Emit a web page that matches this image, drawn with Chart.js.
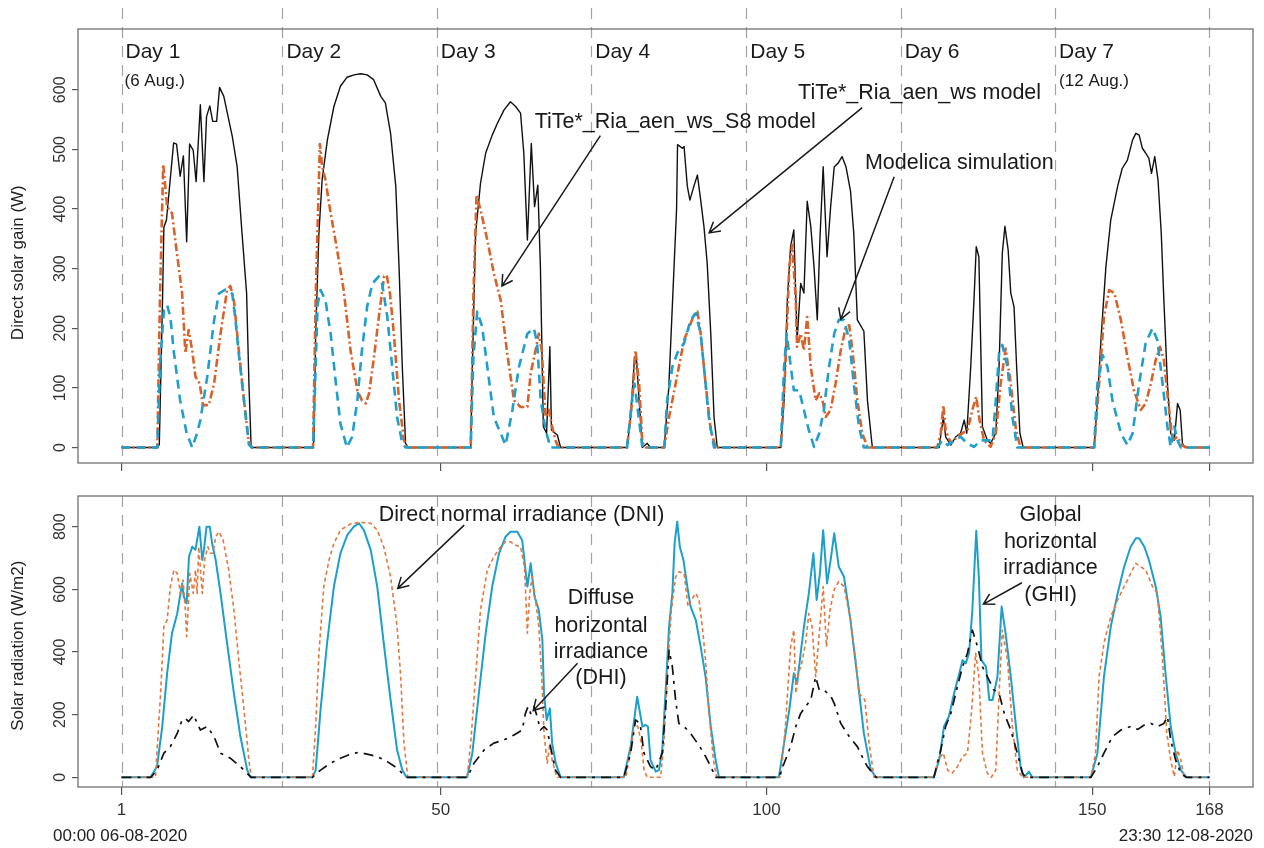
<!DOCTYPE html>
<html>
<head>
<meta charset="utf-8">
<script src="https://cdn.jsdelivr.net/npm/chart.js@4.4.1/dist/chart.umd.min.js"></script>
<style>
  html, body { margin: 0; padding: 0; background: #fff; }
  #wrap { position: relative; width: 1264px; height: 848px; }
  canvas { position: absolute; left: 0; }
</style>
</head>
<body>
<div id="wrap">
  <canvas id="gainChart" width="1264" height="475" style="top:0"></canvas>
  <canvas id="radChart" width="1264" height="373" style="top:475px"></canvas>
</div>
<script>
// Axis ticks and day markers (hour index, 1 = 00:00 06-08-2020)
const hourTicks = [1, 50, 100, 150, 168];
const gainTicks = [0, 100, 200, 300, 400, 500, 600];
const radTicks = [0, 200, 400, 600, 800];
const dayBounds = [1, 25.7, 49.4, 73.1, 96.9, 120.6, 144.3, 168];
const dayNames = ['Day 1', 'Day 2', 'Day 3', 'Day 4', 'Day 5', 'Day 6', 'Day 7'];

// Direct solar gain (W) - [hour, value]
const gainRiaWs = [
  [1,0],[6.5,0],[6.8,5],[7.3,250],[7.5,369],[7.9,382],[9,511],[9.45,509],[10,455],[10.5,489],[11,345],[11.45,509],[12,499],[12.45,446],[13.1,575],[13.65,446],[14.05,555],[14.55,573],[15,547],[15.6,547],[16.05,604],[16.7,589],[18,522],[18.75,471],[19.5,359],[20.2,259],[20.55,110],[20.9,0],
  [30.3,0],[30.55,12],[30.8,190],[31.3,360],[31.8,450],[32.6,516],[33.6,572],[34.6,606],[35.6,621],[36.7,625],[37.7,627],[38.7,625],[39.7,617],[40.8,589],[41.5,578],[42.3,527],[43.1,438],[43.6,303],[44.1,135],[44.6,7],[45,0],
  [54.6,0],[54.85,135],[55.35,359],[56.1,443],[56.9,494],[57.9,524],[58.7,544],[59.7,566],[60.7,580],[61.5,572],[62.25,561],[62.75,494],[63.3,348],[63.9,510],[64.4,404],[64.9,440],[65.3,303],[65.75,35],[66.25,24],[66.75,169],[67,29],[67.9,21],[68.4,0],
  [78.6,0],[79.15,51],[79.75,152],[80.05,147],[80.45,79],[80.95,0],[81.7,7],[82.2,0],[84.3,0],[85,100],[85.8,300],[86.2,400],[86.35,508],[87.1,502],[87.35,505],[87.85,438],[88.25,415],[88.85,438],[89.4,457],[89.9,415],[90.4,371],[90.9,309],[91.45,191],[91.95,51],[92.45,0],
  [102.2,0],[102.7,79],[103.2,247],[103.7,337],[104.2,365],[104.7,180],[105.25,275],[105.75,259],[106.25,413],[106.8,371],[107.3,303],[107.8,214],[108.2,348],[108.7,471],[109.3,320],[109.85,404],[110.4,471],[111,477],[111.6,488],[112.2,471],[112.9,430],[113.4,359],[113.95,214],[114.95,195],[115.5,79],[116.25,0],
  [126.5,0],[127.15,51],[127.5,18],[128.3,4],[129.05,18],[129.8,24],[130.35,46],[130.75,24],[131.35,135],[131.85,247],[132.2,337],[132.6,320],[133.15,35],[133.9,12],[134.4,7],[135.2,24],[135.7,135],[136.2,326],[136.6,371],[137.1,331],[137.5,259],[138,236],[138.4,135],[138.9,24],[139.4,0],
  [150.3,0],[150.8,79],[151.4,191],[152.1,303],[152.85,382],[153.9,438],[154.6,468],[155.4,482],[156.2,516],[156.7,527],[157.2,524],[157.7,502],[158.2,494],[158.7,485],[159.1,460],[159.6,488],[160.1,449],[160.6,359],[161,247],[161.55,107],[162.05,24],[162.6,12],[163.1,74],[163.5,63],[163.85,7],[164.2,0],[168,0]
];
const gainRiaWsS8 = [
  [1,0],[6.5,0],[6.9,250],[7.4,475],[8,404],[8.75,393],[9.5,326],[10.3,259],[10.8,158],[11.3,197],[11.85,163],[12.35,119],[13,107],[13.5,71],[14.4,71],[15.2,107],[16.2,191],[17.2,264],[17.7,271],[18.25,247],[19,163],[19.8,79],[20.5,12],[21,0],
  [30.4,0],[30.8,250],[31.45,509],[31.8,471],[32.3,449],[33.1,393],[34.1,331],[35.1,264],[36.15,163],[37.2,96],[37.9,79],[38.5,74],[39,91],[39.7,147],[40.5,219],[41.3,287],[41.7,289],[42.2,259],[42.8,191],[43.6,79],[44.35,12],[44.9,0],
  [54.6,0],[55,250],[55.5,424],[56.1,399],[57.15,348],[58.15,292],[59.2,247],[60.2,158],[61.25,79],[62.25,68],[63.3,68],[63.8,124],[64.55,163],[65.05,191],[65.5,163],[66.1,51],[66.6,63],[67.1,35],[67.6,12],[68.1,0],
  [78.6,0],[79.4,79],[79.9,163],[80.45,107],[80.95,8],[81.5,0],[84.3,0],[85.05,51],[86.05,107],[87.35,180],[88.85,222],[89.4,228],[89.9,191],[90.65,107],[91.45,29],[92.2,0],
  [102.2,0],[102.9,135],[103.5,303],[103.95,340],[104.5,247],[104.7,169],[105.25,191],[105.75,163],[106.25,219],[106.8,135],[107.55,79],[108.1,91],[108.6,79],[109.1,51],[109.85,63],[110.6,107],[111.4,163],[112.2,203],[112.7,205],[113.2,163],[113.95,79],[114.7,24],[115.5,0],
  [126.2,0],[126.75,24],[127.15,71],[127.5,29],[128.3,7],[129.3,18],[130.1,24],[130.85,29],[131.6,63],[132.2,85],[132.7,46],[133.4,12],[134.4,1],[135.2,24],[135.95,107],[136.7,166],[137.5,107],[138.3,29],[139,0],
  [150.3,0],[151.05,107],[151.8,219],[152.6,264],[153.4,259],[154.4,214],[155.4,152],[156.4,96],[157.45,63],[158.2,74],[159,107],[159.75,147],[160.4,169],[161,147],[161.65,79],[162.3,12],[163.1,18],[163.85,3],[164.6,0],[168,0]
];
const gainModelica = [
  [1,0],[6.5,0],[6.9,135],[7.5,230],[8,239],[8.5,219],[9,163],[10,79],[11,24],[11.85,0],[12.6,24],[13.1,46],[14.15,118],[15.2,213],[15.95,258],[16.95,265],[18,258],[18.5,213],[19,157],[19.8,79],[20.55,5],[21,0],
  [30.4,0],[30.8,135],[31.1,240],[31.55,264],[32.3,247],[33.1,191],[33.85,113],[34.6,40],[35.6,0],[36.4,18],[37.2,79],[37.9,163],[38.7,236],[39.5,275],[40.5,287],[41,275],[41.8,219],[42.55,135],[43.3,51],[44.1,7],[44.6,0],
  [54.6,0],[55,150],[55.6,228],[56.35,203],[57.15,135],[58.15,51],[59.95,4],[61,63],[62,135],[63.3,191],[64.3,200],[64.8,175],[65.35,79],[66.1,29],[66.85,0],
  [78.6,0],[79.4,85],[79.75,107],[80.25,63],[80.95,0],[84.3,0],[84.75,79],[85.55,135],[86.3,158],[87.35,175],[88.35,214],[89.15,225],[89.9,191],[90.4,135],[91.15,51],[91.95,0],
  [102.2,0],[102.7,135],[103.1,191],[103.6,147],[104.2,96],[105,96],[105.75,63],[106.5,29],[107.3,1],[108.1,24],[108.8,63],[109.6,135],[110.4,191],[111.1,214],[111.9,214],[112.7,180],[113.4,107],[114.2,35],[114.95,0],
  [126.2,0],[127,12],[127.8,4],[128.8,12],[129.8,18],[130.8,7],[131.85,1],[132.9,12],[134.7,12],[135.2,79],[135.7,158],[136.2,172],[137,135],[137.75,51],[138.5,0],
  [150.3,0],[150.8,107],[151.6,155],[152.35,135],[153.1,79],[154.4,24],[155.4,4],[156.2,24],[157.2,107],[158.2,175],[159.25,200],[160,180],[160.8,107],[161.55,35],[162.05,1],[162.6,35],[163.1,12],[163.6,0],[168,0]
];

// Solar radiation (W/m2) - [hour, value]
const ghi = [
  [1,0],[5.45,0],[6.45,34],[7.25,162],[8,332],[8.75,460],[9.55,523],[10.05,587],[10.3,619],[10.55,577],[11,555],[11.35,704],[11.85,736],[12.35,726],[12.95,800],[13.4,694],[13.65,726],[14.05,800],[14.55,800],[14.9,747],[15.45,694],[16.2,587],[17.2,428],[18.25,268],[19.25,130],[20.3,23],[20.8,0],
  [30.3,0],[30.8,23],[31.55,215],[32.55,428],[33.6,609],[34.6,715],[35.65,773],[36.65,800],[37.45,811],[38.2,789],[39.25,726],[40.25,609],[41.25,428],[42.3,247],[43.3,87],[44.1,23],[44.75,0],
  [54.05,0],[54.85,77],[55.85,268],[56.9,460],[57.9,609],[58.95,715],[59.95,768],[60.7,784],[61.75,784],[62.5,757],[63.3,609],[63.8,683],[64.4,577],[65.05,534],[65.6,438],[65.85,268],[66.25,183],[66.75,220],[67.1,109],[67.65,45],[68.4,0],
  [78.1,0],[79.15,98],[80.15,257],[80.95,162],[81.45,167],[81.8,162],[82.2,55],[83,18],[83.5,23],[84,87],[84.5,268],[85.05,481],[85.55,587],[85.9,747],[86.3,816],[86.7,736],[87.25,694],[87.85,609],[88.35,545],[89.15,502],[89.9,417],[90.65,321],[91.45,162],[92.2,55],[92.7,0],
  [101.9,0],[102.7,109],[103.5,215],[104.2,332],[104.7,300],[105.25,396],[105.75,481],[106.5,587],[107.2,715],[107.7,566],[108.2,651],[108.7,789],[109.3,619],[109.85,694],[110.4,779],[111.1,672],[111.9,640],[112.9,500],[113.95,320],[114.95,140],[116,25],[116.8,0],
  [125.7,0],[126.5,55],[127.25,162],[128,194],[128.8,268],[129.6,332],[130.1,374],[130.6,364],[131.1,396],[131.6,534],[132.2,787],[132.6,638],[133,374],[133.7,353],[134.2,247],[134.7,247],[135.45,321],[136.1,545],[136.7,460],[137.5,321],[138.3,162],[139,34],[139.5,0],[140.3,18],[140.8,0],
  [149.8,0],[150.8,77],[151.8,321],[152.85,481],[153.9,587],[154.9,672],[155.9,736],[156.7,763],[157.2,763],[158,736],[158.7,694],[159.75,609],[160.5,513],[161.3,321],[162.05,162],[162.8,77],[163.6,23],[164.4,2],[164.9,0],[168,0]
];
const dni = [
  [1,0],[6.2,0],[7,268],[7.5,481],[8,502],[8.5,609],[9.05,662],[9.55,651],[10.05,587],[10.45,630],[10.8,534],[11,449],[11.5,651],[12,587],[12.35,662],[12.6,587],[12.85,736],[13.4,587],[13.75,694],[14.25,736],[14.65,715],[15.05,715],[15.45,768],[15.95,784],[16.6,757],[17.45,662],[18.25,534],[19,374],[19.8,215],[20.55,55],[20.9,0],
  [30.3,0],[30.8,162],[31.3,396],[32.05,609],[32.85,694],[33.6,747],[34.6,789],[36.15,809],[37.7,814],[39.25,811],[40.25,789],[41.25,736],[42.3,640],[43.3,481],[43.85,321],[44.35,109],[44.95,0],
  [54.05,0],[54.6,109],[55.35,321],[56.1,534],[57.15,662],[58.15,704],[59.2,736],[59.95,752],[60.7,752],[61.5,741],[62.25,736],[62.85,672],[63.3,460],[63.65,587],[64.05,640],[64.55,566],[65.05,481],[65.5,321],[65.85,140],[66.35,45],[66.75,109],[67.1,55],[67.8,0],
  [78.4,0],[79.15,87],[79.75,172],[80.25,162],[80.8,109],[81.2,23],[81.7,0],[83.75,0],[84.25,109],[84.9,374],[85.4,534],[86.05,640],[86.55,656],[87.35,651],[87.95,545],[88.45,566],[89.15,587],[89.65,566],[90.15,481],[90.65,374],[91.15,215],[91.85,55],[92.35,0],
  [102.2,0],[102.9,162],[103.7,417],[104.2,470],[104.5,268],[105,340],[105.3,353],[106,428],[106.5,523],[107,481],[107.55,321],[108.1,460],[108.7,609],[109.2,417],[109.75,534],[110.4,600],[111.1,625],[111.9,609],[112.9,502],[113.7,374],[114.2,268],[115.1,247],[115.75,109],[116.5,0],
  [125.7,0],[126.3,55],[127.15,77],[127.8,23],[128.5,13],[129.3,34],[130.1,66],[130.85,77],[131.5,215],[132.1,396],[132.6,321],[133.15,77],[133.9,13],[134.5,0],[135.2,23],[135.7,268],[136.2,470],[137,374],[137.75,162],[138.5,23],[139.3,0],
  [149.8,0],[150.5,77],[151.05,321],[151.8,428],[152.85,513],[153.9,566],[154.9,609],[155.9,651],[156.7,683],[157.45,672],[158.2,662],[159.25,609],[160,587],[160.8,374],[161.45,140],[162.05,55],[162.6,2],[163.1,87],[163.6,55],[164.1,0],[168,0]
];
const dhi = [
  [1,0],[5.5,0],[6.45,23],[7.5,77],[8.5,98],[9.55,140],[10.3,183],[10.8,188],[11.3,178],[12.1,199],[12.6,172],[13.1,151],[14.15,162],[15.2,130],[16.2,77],[17.7,61],[19.25,34],[20.55,7],[20.9,0],
  [30.3,0],[31.55,23],[33.1,45],[34.6,61],[36.15,74],[37.45,80],[38.7,74],[40.25,66],[41.8,50],[43.3,29],[44.6,2],[44.9,0],
  [54.1,0],[55.1,45],[56.65,87],[58.15,109],[59.7,119],[61.25,135],[62.5,151],[63,204],[63.4,226],[63.8,204],[64.3,226],[64.8,194],[65.3,151],[65.85,162],[66.35,151],[66.85,98],[67.6,23],[68.4,0],
  [78.1,0],[79.15,77],[79.9,183],[80.6,172],[81.2,77],[82.2,34],[83,23],[84,77],[84.5,215],[85.05,406],[85.55,353],[86.05,247],[86.55,172],[87.35,162],[88.35,140],[89.4,109],[90.4,77],[91.45,34],[92.2,0],
  [101.9,0],[102.9,55],[103.7,98],[104.5,162],[105.25,204],[106,226],[106.8,247],[107.55,321],[108.1,279],[108.8,279],[109.85,260],[110.4,236],[111.4,172],[112.7,130],[113.95,98],[114.95,55],[115.5,34],[116.8,0],
  [125.7,0],[126.75,87],[127.5,162],[128.3,204],[129.3,289],[130.1,353],[130.85,396],[131.6,470],[132.4,417],[133.15,353],[133.9,321],[134.9,279],[135.7,268],[136.5,204],[137.5,151],[138.5,77],[139.3,13],[139.8,0],
  [149.8,0],[150.8,34],[151.8,77],[153.1,130],[154.4,151],[155.9,162],[157,153],[158,167],[159,172],[160,162],[161,172],[161.55,194],[162.05,119],[162.8,55],[163.6,13],[164.4,0],[168,0]
];

// Annotation texts, anchored in data units (x = hour, y = value)
const gainNotes = [
  { lines: ['TiTe*_Ria_aen_ws_S8 model'], x: 86, y: [546], from: [74.5, 523], to: [59.4, 271] },
  { lines: ['TiTe*_Ria_aen_ws model'], x: 123.5, y: [595], from: [114.7, 570], to: [91.2, 360] },
  { lines: ['Modelica simulation'], x: 129.6, y: [477], from: [119.6, 454], to: [111.4, 215] }
];
const radNotes = [
  { lines: ['Direct normal irradiance (DNI)'], x: 62.4, y: [837], from: [53.6, 805], to: [43.4, 603] },
  { lines: ['Diffuse', 'horizontal', 'irradiance', '(DHI)'], x: 74.6, y: [571, 484, 401, 316], from: [71, 364], to: [64.2, 213] },
  { lines: ['Global', 'horizontal', 'irradiance', '(GHI)'], x: 143.6, y: [837, 752, 667, 582], from: [139.2, 621], to: [133.3, 553] }
];

const FONT = '"Liberation Sans", Arial, sans-serif';
const toXY = arr => arr.map(([x, y]) => ({ x, y }));

function drawArrow(ctx, x1, y1, x2, y2) {
  const ang = Math.atan2(y2 - y1, x2 - x1), len = 12, spread = Math.PI / 6;
  ctx.beginPath();
  ctx.moveTo(x1, y1);
  ctx.lineTo(x2, y2);
  ctx.moveTo(x2 - len * Math.cos(ang - spread), y2 - len * Math.sin(ang - spread));
  ctx.lineTo(x2, y2);
  ctx.lineTo(x2 - len * Math.cos(ang + spread), y2 - len * Math.sin(ang + spread));
  ctx.stroke();
}

// Draws the R-style frame: box, day separators, rotated y labels, notes
function framePlugin(cfg) {
  return {
    id: 'frame',
    beforeDatasetsDraw(chart) {
      const { ctx, chartArea: a, scales: { x } } = chart;
      ctx.save();
      ctx.strokeStyle = '#a3a3a3';
      ctx.lineWidth = 1.2;
      ctx.setLineDash([11, 8]);
      dayBounds.forEach(d => {
        const px = Math.round(x.getPixelForValue(d)) + 0.5;
        ctx.beginPath();
        ctx.moveTo(px, cfg.lineTop != null ? cfg.lineTop : a.top);
        ctx.lineTo(px, a.bottom);
        ctx.stroke();
      });
      ctx.restore();
    },
    afterDraw(chart) {
      const { ctx, chartArea: a, scales: { x, y } } = chart;
      ctx.save();
      ctx.strokeStyle = '#707070';
      ctx.lineWidth = 1.3;
      ctx.strokeRect(a.left, a.top, a.right - a.left, a.bottom - a.top);

      // y tick labels, read bottom to top
      ctx.fillStyle = '#333';
      ctx.font = '16px ' + FONT;
      ctx.textAlign = 'center';
      ctx.textBaseline = 'middle';
      y.ticks.forEach(t => {
        ctx.save();
        ctx.translate(61, y.getPixelForValue(t.value));
        ctx.rotate(-Math.PI / 2);
        ctx.fillText(String(t.value), 0, 0);
        ctx.restore();
      });

      // y title
      ctx.save();
      ctx.font = '17px ' + FONT;
      ctx.fillStyle = '#222';
      ctx.translate(18, y.getPixelForValue(cfg.titleAt));
      ctx.rotate(-Math.PI / 2);
      ctx.fillText(cfg.title, 0, 0);
      ctx.restore();

      // day labels
      if (cfg.days) {
        ctx.textAlign = 'left';
        ctx.fillStyle = '#1a1a1a';
        dayNames.forEach((name, i) => {
          const px = x.getPixelForValue(dayBounds[i]) + 4;
          ctx.font = '21px ' + FONT;
          ctx.fillText(name, px, a.top + 23);
          ctx.font = '17px ' + FONT;
          if (i === 0) ctx.fillText('(6 Aug.)', px - 1, a.top + 52);
          if (i === 6) ctx.fillText('(12 Aug.)', px, a.top + 52);
        });
      }

      // annotations with arrows
      ctx.font = '21.5px ' + FONT;
      ctx.textAlign = 'center';
      ctx.fillStyle = '#1a1a1a';
      ctx.strokeStyle = '#1a1a1a';
      ctx.lineWidth = 1.5;
      cfg.notes.forEach(n => {
        n.lines.forEach((line, i) => {
          ctx.fillText(line, x.getPixelForValue(n.x), y.getPixelForValue(n.y[i]));
        });
        drawArrow(ctx,
          x.getPixelForValue(n.from[0]), y.getPixelForValue(n.from[1]),
          x.getPixelForValue(n.to[0]), y.getPixelForValue(n.to[1]));
      });

      // start / end timestamps
      if (cfg.stamps) {
        ctx.font = '17px ' + FONT;
        ctx.fillStyle = '#222';
        ctx.textAlign = 'left';
        ctx.fillText('00:00 06-08-2020', 53, chart.height - 12);
        ctx.textAlign = 'right';
        ctx.fillText('23:30 12-08-2020', a.right, chart.height - 12);
      }
      ctx.restore();
    }
  };
}

function lineSet(data, color, width, dash) {
  return {
    data: toXY(data), borderColor: color, borderWidth: width, borderDash: dash,
    pointRadius: 0, tension: 0, fill: false, borderCapStyle: 'butt', borderJoinStyle: 'round'
  };
}

function xAxis(height, showLabels) {
  return {
    type: 'linear', min: -5.68, max: 174.68,
    afterBuildTicks: s => { s.ticks = hourTicks.map(v => ({ value: v })); },
    afterFit: s => { s.height = height; },
    grid: { display: true, drawOnChartArea: false, drawTicks: true, tickLength: 8, color: '#555', lineWidth: 1.2 },
    border: { display: false },
    ticks: { display: showLabels, autoSkip: false, maxRotation: 0, padding: 5, color: '#333', font: { size: 17, family: FONT } }
  };
}

function yAxis(min, max, ticks) {
  return {
    type: 'linear', min, max,
    afterBuildTicks: s => { s.ticks = ticks.map(v => ({ value: v })); },
    afterFit: s => { s.width = 78; },
    grid: { display: true, drawOnChartArea: false, drawTicks: true, tickLength: 6, color: '#555', lineWidth: 1.2 },
    border: { display: false },
    ticks: { display: false }
  };
}

const common = {
  responsive: false,
  animation: false,
  events: [],
  plugins: { legend: { display: false }, tooltip: { enabled: false } }
};

new Chart(document.getElementById('gainChart'), {
  type: 'line',
  data: {
    datasets: [
      lineSet(gainModelica, '#1f9fcb', 2.6, [9, 6]),
      lineSet(gainRiaWsS8, '#d8622a', 2.6, [8, 3, 2, 3]),
      lineSet(gainRiaWs, '#111111', 1.4, [])
    ]
  },
  options: Object.assign({}, common, {
    layout: { padding: { top: 29, right: 11, left: 0, bottom: 0 } },
    scales: { x: xAxis(12, false), y: yAxis(-26, 702, gainTicks) }
  }),
  plugins: [framePlugin({ lineTop: 8, title: 'Direct solar gain (W)', titleAt: 310, days: true, notes: gainNotes })]
});

new Chart(document.getElementById('radChart'), {
  type: 'line',
  data: {
    datasets: [
      lineSet(dhi, '#111111', 1.7, [10, 6, 3, 6]),
      lineSet(dni, '#e5783c', 1.6, [4, 3]),
      lineSet(ghi, '#1c9fca', 2, [])
    ]
  },
  options: Object.assign({}, common, {
    layout: { padding: { top: 21, right: 11, left: 0, bottom: 0 } },
    scales: { x: xAxis(61, true), y: yAxis(-31, 898, radTicks) }
  }),
  plugins: [framePlugin({ title: 'Solar radiation (W/m2)', titleAt: 420, notes: radNotes, stamps: true })]
});
</script>
</body>
</html>
